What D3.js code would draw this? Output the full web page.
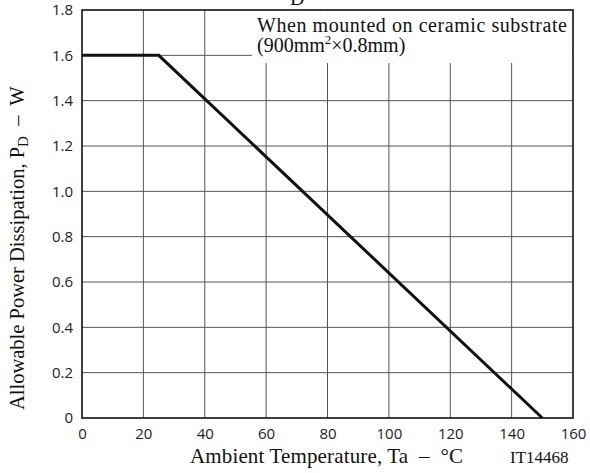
<!DOCTYPE html>
<html>
<head>
<meta charset="utf-8">
<script src="https://cdn.jsdelivr.net/npm/d3@7"></script>
<style>
  body { margin: 0; background: #fff; }
  .tick text { font-family: "Open Sans", sans-serif; font-size: 15px; fill: #222; }
  .serif { font-family: "Liberation Serif", "Times New Roman", serif; fill: #111; white-space: pre; }
</style>
</head>
<body>
<script>
// derating curve: PD vs Ta
var temps = [0, 25, 150];
var power = [1.6, 1.6, 0];
var xTicks = [0, 20, 40, 60, 80, 100, 120, 140, 160];
var yTicks = [0, 0.2, 0.4, 0.6, 0.8, 1.0, 1.2, 1.4, 1.6, 1.8];
var yTickLabels = ["0", "0.2", "0.4", "0.6", "0.8", "1.0", "1.2", "1.4", "1.6", "1.8"];

var width = 590, height = 473;
var margin = {top: 10, right: 17, bottom: 55, left: 82};

var svg = d3.select("body").append("svg")
    .attr("width", width)
    .attr("height", height);

var x = d3.scaleLinear().domain([0, 160]).range([margin.left, width - margin.right]);
var y = d3.scaleLinear().domain([0, 1.8]).range([height - margin.bottom, margin.top]);

// grid
svg.append("g")
  .selectAll("line.vg")
  .data(xTicks.slice(1, -1))
  .enter().append("line")
    .attr("x1", function(d) { return x(d); })
    .attr("x2", function(d) { return x(d); })
    .attr("y1", y(0))
    .attr("y2", y(1.8))
    .attr("stroke", "#555")
    .attr("stroke-width", 1);

svg.append("g")
  .selectAll("line.hg")
  .data(yTicks.slice(1, -1))
  .enter().append("line")
    .attr("x1", x(0))
    .attr("x2", x(160))
    .attr("y1", function(d) { return y(d); })
    .attr("y2", function(d) { return y(d); })
    .attr("stroke", "#555")
    .attr("stroke-width", 1);

// white box behind the note
svg.append("rect")
    .attr("x", 252)
    .attr("y", y(1.8) + 1)
    .attr("width", x(160) - 253)
    .attr("height", 52)
    .attr("fill", "#fff");

// axes
var xAxis = d3.axisBottom(x).tickValues(xTicks).tickSize(0).tickPadding(10);
svg.append("g")
    .attr("transform", "translate(0," + y(0) + ")")
    .call(xAxis)
    .call(function(g) { g.select(".domain").remove(); });

var yAxis = d3.axisLeft(y).tickValues(yTicks).tickSize(0).tickPadding(9)
    .tickFormat(function(d, i) { return yTickLabels[i]; });
svg.append("g")
    .attr("transform", "translate(" + x(0) + ",0)")
    .call(yAxis)
    .call(function(g) { g.select(".domain").remove(); });

// frame
svg.append("rect")
    .attr("x", x(0))
    .attr("y", y(1.8))
    .attr("width", x(160) - x(0))
    .attr("height", y(0) - y(1.8))
    .attr("fill", "none")
    .attr("stroke", "#111")
    .attr("stroke-width", 1.6);

// curve
var line = d3.line()
    .x(function(d, i) { return x(temps[i]); })
    .y(function(d, i) { return y(power[i]); });

svg.append("path")
    .datum(power)
    .attr("d", line)
    .attr("fill", "none")
    .attr("stroke", "#111")
    .attr("stroke-width", 3);

// note
svg.append("text")
    .attr("class", "serif")
    .attr("font-size", 20)
    .attr("x", 257)
    .attr("y", 32)
    .attr("textLength", 310)
    .attr("lengthAdjust", "spacing")
    .text("When mounted on ceramic substrate");
var l2 = svg.append("text")
    .attr("class", "serif")
    .attr("font-size", 20)
    .attr("x", 257)
    .attr("y", 52);
l2.append("tspan").text("(900mm");
l2.append("tspan").attr("font-size", 13).attr("dy", -8).text("2");
l2.append("tspan").attr("dy", 8).text("×0.8mm)");

// clipped title (only subscript shows)
var title = svg.append("text")
    .attr("class", "serif")
    .attr("font-size", 28)
    .attr("x", 270)
    .attr("y", -6);
title.append("tspan").text("P");
title.append("tspan").attr("x", 290).attr("dy", 11).attr("font-size", 20).text("D");

// axis titles
svg.append("text")
    .attr("class", "serif")
    .attr("font-size", 21)
    .attr("x", 190)
    .attr("y", 463)
    .attr("textLength", 273)
    .attr("lengthAdjust", "spacing")
    .text("Ambient Temperature, Ta  –  °C");

svg.append("text")
    .attr("class", "serif")
    .attr("font-size", 17)
    .attr("x", 510)
    .attr("y", 463)
    .text("IT14468");

var yl = svg.append("text")
    .attr("class", "serif")
    .attr("font-size", 20.5)
    .attr("transform", "translate(24,410) rotate(-90)");
yl.append("tspan").text("Allowable Power Dissipation, P");
yl.append("tspan").attr("font-size", 15).attr("dy", 4).text("D");
yl.append("tspan").attr("dy", -4).text("  –  W");
</script>
</body>
</html>
